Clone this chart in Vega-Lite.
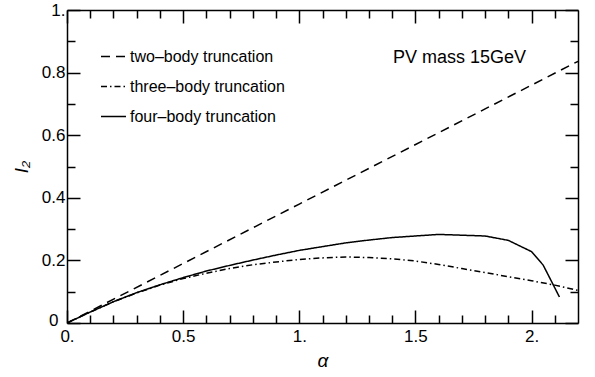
{
  "$schema": "https://vega.github.io/schema/vega-lite/v6.json",
  "width": 511,
  "height": 313,
  "autosize": {"type": "none"},
  "padding": {"left": 67, "top": 10, "right": 17, "bottom": 54},
  "background": "white",
  "config": {
    "view": {"stroke": null},
    "font": "Liberation Sans",
    "axis": {
      "domainColor": "black",
      "domainWidth": 1.5,
      "tickColor": "black",
      "tickWidth": 1.5,
      "grid": false,
      "labelColor": "black",
      "labelFontSize": 17,
      "labelFont": "Liberation Sans",
      "titleColor": "black",
      "titleFont": "Liberation Sans",
      "titleFontSize": 19,
      "titleFontStyle": "italic",
      "titleFontWeight": "normal",
      "labelOverlap": false,
      "labelFlush": false,
      "labelBound": false
    }
  },
  "datasets": {
    "curves": [
      {"series": "two–body truncation", "alpha": 0, "I2": 0},
      {"series": "two–body truncation", "alpha": 1.0, "I2": 0.38},
      {"series": "two–body truncation", "alpha": 2.2, "I2": 0.836},
      {"series": "three–body truncation", "alpha": 0, "I2": 0},
      {"series": "three–body truncation", "alpha": 0.1, "I2": 0.035},
      {"series": "three–body truncation", "alpha": 0.2, "I2": 0.068},
      {"series": "three–body truncation", "alpha": 0.3, "I2": 0.096},
      {"series": "three–body truncation", "alpha": 0.4, "I2": 0.121},
      {"series": "three–body truncation", "alpha": 0.5, "I2": 0.142},
      {"series": "three–body truncation", "alpha": 0.6, "I2": 0.159},
      {"series": "three–body truncation", "alpha": 0.7, "I2": 0.174},
      {"series": "three–body truncation", "alpha": 0.8, "I2": 0.186},
      {"series": "three–body truncation", "alpha": 0.9, "I2": 0.195},
      {"series": "three–body truncation", "alpha": 1.0, "I2": 0.203},
      {"series": "three–body truncation", "alpha": 1.1, "I2": 0.208},
      {"series": "three–body truncation", "alpha": 1.2, "I2": 0.211},
      {"series": "three–body truncation", "alpha": 1.3, "I2": 0.209},
      {"series": "three–body truncation", "alpha": 1.4, "I2": 0.205},
      {"series": "three–body truncation", "alpha": 1.5, "I2": 0.198},
      {"series": "three–body truncation", "alpha": 1.6, "I2": 0.187},
      {"series": "three–body truncation", "alpha": 1.7, "I2": 0.174},
      {"series": "three–body truncation", "alpha": 1.8, "I2": 0.161},
      {"series": "three–body truncation", "alpha": 1.9, "I2": 0.148},
      {"series": "three–body truncation", "alpha": 2.0, "I2": 0.135},
      {"series": "three–body truncation", "alpha": 2.1, "I2": 0.121},
      {"series": "three–body truncation", "alpha": 2.2, "I2": 0.104},
      {"series": "four–body truncation", "alpha": 0, "I2": 0},
      {"series": "four–body truncation", "alpha": 0.1, "I2": 0.035},
      {"series": "four–body truncation", "alpha": 0.2, "I2": 0.068},
      {"series": "four–body truncation", "alpha": 0.3, "I2": 0.097},
      {"series": "four–body truncation", "alpha": 0.4, "I2": 0.122},
      {"series": "four–body truncation", "alpha": 0.5, "I2": 0.145},
      {"series": "four–body truncation", "alpha": 0.6, "I2": 0.166},
      {"series": "four–body truncation", "alpha": 0.7, "I2": 0.184},
      {"series": "four–body truncation", "alpha": 0.8, "I2": 0.201},
      {"series": "four–body truncation", "alpha": 0.9, "I2": 0.217},
      {"series": "four–body truncation", "alpha": 1.0, "I2": 0.232},
      {"series": "four–body truncation", "alpha": 1.1, "I2": 0.244},
      {"series": "four–body truncation", "alpha": 1.2, "I2": 0.256},
      {"series": "four–body truncation", "alpha": 1.3, "I2": 0.265},
      {"series": "four–body truncation", "alpha": 1.4, "I2": 0.273},
      {"series": "four–body truncation", "alpha": 1.5, "I2": 0.278},
      {"series": "four–body truncation", "alpha": 1.6, "I2": 0.283},
      {"series": "four–body truncation", "alpha": 1.8, "I2": 0.278},
      {"series": "four–body truncation", "alpha": 1.9, "I2": 0.264},
      {"series": "four–body truncation", "alpha": 2.0, "I2": 0.228},
      {"series": "four–body truncation", "alpha": 2.05, "I2": 0.185},
      {"series": "four–body truncation", "alpha": 2.09, "I2": 0.127},
      {"series": "four–body truncation", "alpha": 2.12, "I2": 0.083}
    ],
    "note": [
      {"alpha": 1.403, "I2": 0.847, "label": "PV mass 15GeV"}
    ]
  },
  "layer": [
    {
      "data": {"name": "curves"},
      "mark": {"type": "line", "color": "black", "strokeWidth": 1.5, "clip": true},
      "encoding": {
        "x": {
          "field": "alpha", "type": "quantitative",
          "scale": {"domain": [0, 2.2], "nice": false, "zero": false},
          "axis": {
            "orient": "bottom",
            "title": "α",
            "values": [0, 0.1, 0.2, 0.3, 0.4, 0.5, 0.6, 0.7, 0.8, 0.9, 1.0, 1.1, 1.2, 1.3, 1.4, 1.5, 1.6, 1.7, 1.8, 1.9, 2.0, 2.1],
            "labelExpr": "abs(datum.value*2 - round(datum.value*2)) < 0.001 ? (abs(datum.value - round(datum.value)) < 0.001 ? format(datum.value, 'd') + '.' : format(datum.value, '.1f')) : ''",
            "tickSize": {"condition": {"test": "abs(datum.value*2 - round(datum.value*2)) < 0.001", "value": -13}, "value": -8},
            "labelPadding": 18,
            "titlePadding": 2
          }
        },
        "y": {
          "field": "I2", "type": "quantitative",
          "scale": {"domain": [0, 1], "nice": false},
          "axis": {
            "orient": "left",
            "title": "I₂",
            "values": [0, 0.1, 0.2, 0.3, 0.4, 0.5, 0.6, 0.7, 0.8, 0.9, 1.0],
            "labelExpr": "abs(datum.value*5 - round(datum.value*5)) < 0.001 ? (datum.value == 0 ? '0' : (datum.value == 1 ? '1.' : format(datum.value, '.1f'))) : ''",
            "tickSize": {"condition": {"test": "abs(datum.value*5 - round(datum.value*5)) < 0.001", "value": -13}, "value": -8},
            "labelPadding": {"condition": {"test": "datum.value == 0", "value": 22}, "value": 15},
            "labelOffset": {"condition": {"test": "datum.value == 0", "value": -3}, "value": 0},
            "titlePadding": 10
          }
        },
        "strokeDash": {
          "field": "series", "type": "nominal",
          "scale": {
            "domain": ["two–body truncation", "three–body truncation", "four–body truncation"],
            "range": [[9, 6], [6, 3, 1.5, 3], [1, 0]]
          },
          "legend": {
            "orient": "none",
            "legendX": 33,
            "legendY": 33,
            "title": null,
            "symbolType": "stroke",
            "symbolSize": 625,
            "symbolStrokeColor": "black",
            "symbolStrokeWidth": 1.5,
            "labelFontSize": 16,
            "labelFont": "Liberation Sans",
            "labelColor": "black",
            "rowPadding": 8,
            "labelOffset": 3,
            "padding": 0
          }
        }
      }
    },
    {
      "data": {"name": "note"},
      "mark": {"type": "text", "align": "left", "baseline": "middle", "fontSize": 18, "font": "Liberation Sans", "color": "black"},
      "encoding": {
        "x": {
          "field": "alpha", "type": "quantitative",
          "axis": {
            "orient": "top",
            "title": null,
            "labels": false,
            "values": [0, 0.1, 0.2, 0.3, 0.4, 0.5, 0.6, 0.7, 0.8, 0.9, 1.0, 1.1, 1.2, 1.3, 1.4, 1.5, 1.6, 1.7, 1.8, 1.9, 2.0, 2.1],
            "tickSize": {"condition": {"test": "abs(datum.value*2 - round(datum.value*2)) < 0.001", "value": -13}, "value": -8}
          }
        },
        "y": {
          "field": "I2", "type": "quantitative",
          "axis": {
            "orient": "right",
            "title": null,
            "labels": false,
            "values": [0, 0.1, 0.2, 0.3, 0.4, 0.5, 0.6, 0.7, 0.8, 0.9, 1.0],
            "tickSize": {"condition": {"test": "abs(datum.value*5 - round(datum.value*5)) < 0.001", "value": -13}, "value": -8}
          }
        },
        "text": {"field": "label"}
      }
    }
  ],
  "resolve": {"axis": {"x": "independent", "y": "independent"}}
}
